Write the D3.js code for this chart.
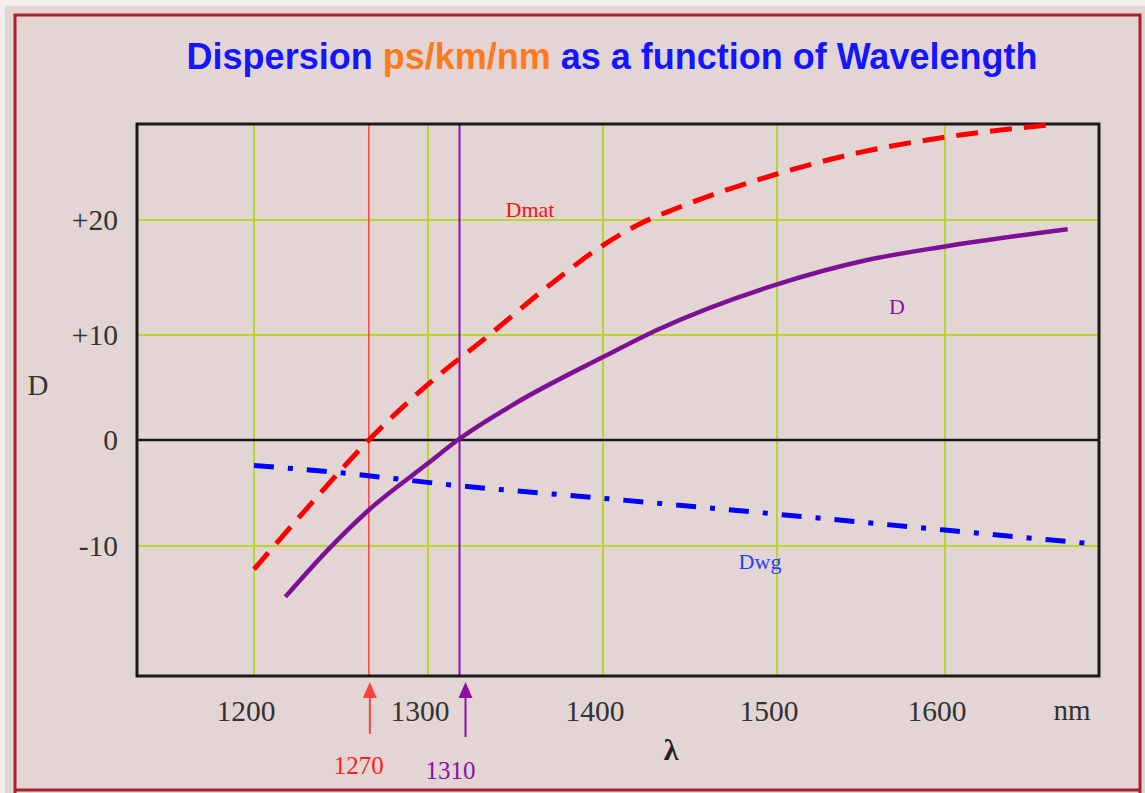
<!DOCTYPE html>
<html>
<head>
<meta charset="utf-8">
<script src="https://cdn.jsdelivr.net/npm/d3@7"></script>
<style>
  body { margin: 0; background: #ffffff; }
  svg { display: block; }
</style>
</head>
<body>
<div id="canvas"></div>
<script>
// values
const xTicks = [1200, 1300, 1400, 1500, 1600];
const yTicks = [-10, 0, 10, 20];
const yTickLabels = ["-10", "0", "+10", "+20"];

const dmatLambda = [1200, 1235, 1266, 1300, 1335, 1370, 1400, 1423, 1442, 1500, 1550, 1600, 1664];
const dmatValues = [-12.2, -5.6, 0, 5.3, 10, 14.4, 17.8, 19.8, 21.0, 24.0, 25.9, 27.2, 28.3];

const dLambda = [1218, 1244, 1266, 1300, 1317, 1350, 1400, 1432, 1500, 1553, 1600, 1673];
const dValues = [-14.8, -10.1, -6.6, -2.2, 0, 3.5, 7.9, 10.5, 14.4, 16.5, 17.7, 19.2];

const dwgLambda = [1200, 1250, 1317, 1400, 1500, 1600, 1688];
const dwgValues = [-2.4, -3.1, -4.3, -5.5, -7.0, -8.5, -9.8];

// marker lines: drawn position and printed label
const markerPos = [1266, 1318];
const markerLabels = ["1270", "1310"];

const W = 1145, H = 793;
const bg = "#e4d5d5";

const svg = d3.select('#canvas').append('svg')
    .attr('width', W)
    .attr('height', H);

svg.append('rect').attr('width', W).attr('height', H).attr('fill', bg);
// light strip at top/left edge
svg.append('rect').attr('x', 0).attr('y', 0).attr('width', W).attr('height', 6).attr('fill', '#f2eeee');
svg.append('rect').attr('x', 0).attr('y', 0).attr('width', 5).attr('height', H).attr('fill', '#f2eeee');
// dark red outer frame
svg.append('path')
    .attr('d', 'M15,793 L15,15 L1140,15 L1140,793 M15,790 L1140,790')
    .attr('fill', 'none')
    .attr('stroke', '#a8222c')
    .attr('stroke-width', 3);

// scales (the drawing is hand-made, so the spacing is piecewise)
const x = d3.scaleLinear()
    .domain(xTicks)
    .range([254, 428, 603, 777, 945]);
const y = d3.scaleLinear()
    .domain(yTicks)
    .range([546, 440, 335, 220]);

const plotLeft = 137, plotRight = 1099, plotTop = 124, plotBottom = 676;

// gridlines
const grid = svg.append('g');
grid.selectAll('line.v')
    .data(xTicks)
    .enter().append('line')
    .attr('x1', d => x(d)).attr('x2', d => x(d))
    .attr('y1', plotTop).attr('y2', plotBottom)
    .attr('stroke', '#b9d530').attr('stroke-width', 2);
grid.selectAll('line.h')
    .data(yTicks.filter(d => d != 0))
    .enter().append('line')
    .attr('x1', plotLeft).attr('x2', plotRight)
    .attr('y1', d => y(d)).attr('y2', d => y(d))
    .attr('stroke', '#b9d530').attr('stroke-width', 2);

// marker verticals
const markerColors = ["#ff4040", "#8a10a8"];
svg.append('g').selectAll('line')
    .data(markerPos)
    .enter().append('line')
    .attr('x1', d => x(d)).attr('x2', d => x(d))
    .attr('y1', plotTop).attr('y2', plotBottom)
    .attr('stroke', (d, i) => markerColors[i])
    .attr('stroke-width', (d, i) => i == 0 ? 1.5 : 2);

// zero line
svg.append('line')
    .attr('x1', plotLeft).attr('x2', plotRight)
    .attr('y1', y(0)).attr('y2', y(0))
    .attr('stroke', '#1a1a1a').attr('stroke-width', 2.5);

// plot frame
svg.append('rect')
    .attr('x', plotLeft).attr('y', plotTop)
    .attr('width', plotRight - plotLeft).attr('height', plotBottom - plotTop)
    .attr('fill', 'none')
    .attr('stroke', '#1a1a1a')
    .attr('stroke-width', 3);

const line = d3.line()
    .x(d => x(d[0]))
    .y(d => y(d[1]))
    .curve(d3.curveMonotoneX);

svg.append('path')
    .datum(d3.zip(dwgLambda, dwgValues))
    .attr('d', line)
    .attr('fill', 'none')
    .attr('stroke', '#0000ff')
    .attr('stroke-width', 5)
    .attr('stroke-dasharray', '20,14,5,14');

svg.append('path')
    .datum(d3.zip(dmatLambda, dmatValues))
    .attr('d', line)
    .attr('fill', 'none')
    .attr('stroke', '#ff0000')
    .attr('stroke-width', 5)
    .attr('stroke-dasharray', '22,12');

svg.append('path')
    .datum(d3.zip(dLambda, dValues))
    .attr('d', line)
    .attr('fill', 'none')
    .attr('stroke', '#7d1096')
    .attr('stroke-width', 4.5);

// series labels
const serif = "'Liberation Serif', 'Times New Roman', serif";
svg.append('text').attr('x', 530).attr('y', 217).text('Dmat')
    .attr('font-family', serif).attr('font-size', 22).attr('fill', '#ff1010').attr('text-anchor', 'middle');
svg.append('text').attr('x', 897).attr('y', 314).text('D')
    .attr('font-family', serif).attr('font-size', 22).attr('fill', '#8a10a8').attr('text-anchor', 'middle');
svg.append('text').attr('x', 760).attr('y', 569).text('Dwg')
    .attr('font-family', serif).attr('font-size', 22).attr('fill', '#2040ff').attr('text-anchor', 'middle');

// y tick labels
svg.append('g').selectAll('text')
    .data(yTicks)
    .enter().append('text')
    .attr('x', 118)
    .attr('y', d => y(d) + 10)
    .attr('text-anchor', 'end')
    .attr('font-family', serif)
    .attr('font-size', 29.5)
    .attr('fill', '#333')
    .text((d, i) => yTickLabels[i]);

// x tick labels
svg.append('g').selectAll('text')
    .data(xTicks)
    .enter().append('text')
    .attr('x', d => x(d) - 8)
    .attr('y', 721)
    .attr('text-anchor', 'middle')
    .attr('font-family', serif)
    .attr('font-size', 29.5)
    .attr('fill', '#333')
    .text(d => d);

svg.append('text').attr('x', 1072).attr('y', 720).text('nm')
    .attr('font-family', serif).attr('font-size', 29).attr('fill', '#333').attr('text-anchor', 'middle');
svg.append('text').attr('x', 38).attr('y', 395).text('D')
    .attr('font-family', serif).attr('font-size', 29).attr('fill', '#333').attr('text-anchor', 'middle');
svg.append('text').attr('x', 671).attr('y', 760).text('λ')
    .attr('font-family', serif).attr('font-size', 30).attr('font-weight', 'bold').attr('fill', '#222').attr('text-anchor', 'middle');

// arrows and marker labels
const arrows = svg.append('g');
markerPos.forEach(function (p, i) {
    const ax = x(p) + (i == 0 ? 1 : 6);
    arrows.append('line')
        .attr('x1', ax).attr('x2', ax)
        .attr('y1', 694).attr('y2', i == 0 ? 734 : 737)
        .attr('stroke', markerColors[i]).attr('stroke-width', 2);
    arrows.append('path')
        .attr('d', 'M' + ax + ',682 L' + (ax - 7) + ',698 L' + (ax + 7) + ',698 Z')
        .attr('fill', markerColors[i]);
    arrows.append('text')
        .attr('x', x(p) - 9 - (i == 0 ? 1 : 0))
        .attr('y', i == 0 ? 774 : 779)
        .attr('text-anchor', 'middle')
        .attr('font-family', serif)
        .attr('font-size', 25)
        .attr('fill', i == 0 ? '#ff2020' : '#8a10a8')
        .text(markerLabels[i]);
});

// title
const title = svg.append('text')
    .attr('x', 612)
    .attr('y', 69)
    .attr('text-anchor', 'middle')
    .attr('font-family', "'Liberation Sans', Arial, sans-serif")
    .attr('font-weight', 'bold')
    .attr('font-size', 36);
title.append('tspan').attr('fill', '#1515ff').text('Dispersion ');
title.append('tspan').attr('fill', '#ff7a1a').text('ps/km/nm');
title.append('tspan').attr('fill', '#1515ff').text(' as a function of Wavelength');
</script>
</body>
</html>
